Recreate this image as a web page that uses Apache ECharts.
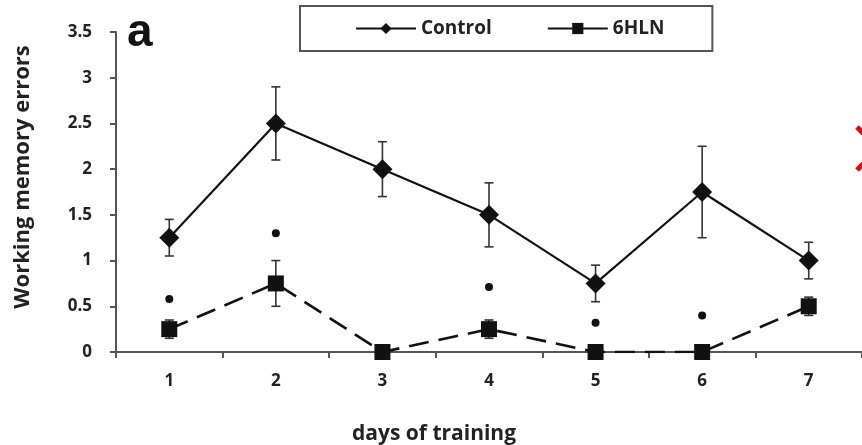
<!DOCTYPE html>
<html><head><meta charset="utf-8">
<script src="https://cdn.jsdelivr.net/npm/echarts@6/dist/echarts.min.js"></script>
<style>html,body{margin:0;padding:0;background:#fff}#c{width:862px;height:445px}</style>
</head><body><div id="c"></div>
<script>
var days = ['1','2','3','4','5','6','7'];
var controlMean = [1.25, 2.5, 2.0, 1.5, 0.75, 1.75, 1.0];
var controlErr  = [0.2, 0.4, 0.3, 0.35, 0.2, 0.5, 0.2];
var hlnMean = [0.25, 0.75, 0, 0.25, 0, 0, 0.5];
var hlnErr  = [0.1, 0.25, 0, 0.1, 0, 0, 0.1];
var starValues = [0.58, 1.3, null, 0.71, 0.32, 0.4, null];

var FONT = '"Open Sans"';
function errData(mean, err){ return mean.map(function(m,i){ return [i, m-err[i], m+err[i]]; }); }
function errSeries(mean, err){
  return {
    type:'custom', silent:true, z:1,
    data: errData(mean, err),
    renderItem: function(params, api){
      if (api.value(2) - api.value(1) <= 0) return null;
      var lo = api.coord([api.value(0), api.value(1)]);
      var hi = api.coord([api.value(0), api.value(2)]);
      var hw = 4.5;
      var st = {stroke:'#333', lineWidth:1.6};
      return {type:'group', children:[
        {type:'line', shape:{x1:lo[0],y1:lo[1],x2:hi[0],y2:hi[1]}, style:st},
        {type:'line', shape:{x1:lo[0]-hw,y1:lo[1],x2:lo[0]+hw,y2:lo[1]}, style:st},
        {type:'line', shape:{x1:hi[0]-hw,y1:hi[1],x2:hi[0]+hw,y2:hi[1]}, style:st}
      ]};
    }
  };
}
var chart = echarts.init(document.getElementById('c'));
chart.setOption({
  animation:false,
  backgroundColor:'#fff',
  grid:{left:116, right:0, top:32, bottom:93, containLabel:false},
  legend:{
    left:300, top:6,
    padding:[13,48,13,55],
    itemGap:55, itemWidth:60, itemHeight:14,
    borderColor:'#555', borderWidth:2,
    data:[{name:'Control'}, {name:'6HLN', lineStyle:{type:'solid'}}],
    textStyle:{fontFamily:FONT, fontWeight:'bold', fontSize:19, color:'#222'}
  },
  xAxis:{
    type:'category', data:days, boundaryGap:true,
    axisLine:{lineStyle:{color:'#555', width:2}},
    axisTick:{show:true, interval:0, length:6, lineStyle:{color:'#555', width:2}},
    axisLabel:{fontFamily:FONT, fontWeight:'bold', fontSize:17, color:'#222', margin:21}
  },
  yAxis:{
    type:'value', min:0, max:3.5, interval:0.5,
    axisLine:{show:true, lineStyle:{color:'#555', width:2}},
    axisTick:{show:true, length:6, lineStyle:{color:'#555', width:2}},
    splitLine:{show:false},
    axisLabel:{fontFamily:FONT, fontWeight:'bold', fontSize:17, color:'#222', margin:24,
      formatter:function(v){ return String(v); }}
  },
  graphic:[
    {type:'text', left:127, top:10, style:{text:'a', font:'bold 46px "Liberation Sans"', fill:'#111'}},
    {type:'text', x:23, y:177, rotation:Math.PI/2,
      style:{text:'Working memory errors', font:'bold 22px "Open Sans"', fill:'#222', align:'center', verticalAlign:'middle'}},
    {type:'text', left:352, top:424, style:{text:'days of training', font:'bold 21px "Open Sans"', fill:'#222'}},
    {type:'polyline', shape:{points:[[857,127],[878,149],[857,170]]}, style:{stroke:'#cc1111', lineWidth:5, fill:null}}
  ],
  series:[
    errSeries(controlMean, controlErr),
    errSeries(hlnMean, hlnErr),
    {name:'Control', type:'line', data:controlMean, z:3,
      symbol:'diamond', symbolSize:[20,20], showAllSymbol:true,
      lineStyle:{color:'#111', width:2.2}, itemStyle:{color:'#111'}},
    {name:'6HLN', type:'line', data:hlnMean, z:3,
      symbol:'rect', symbolSize:16, showAllSymbol:true,
      lineStyle:{color:'#111', width:2.6, type:[20,10]}, itemStyle:{color:'#111'}},
    {name:'sig', type:'scatter', data:starValues, symbol:'circle', symbolSize:8,
      itemStyle:{color:'#111', opacity:1}, silent:true}
  ]
});
</script></body></html>
